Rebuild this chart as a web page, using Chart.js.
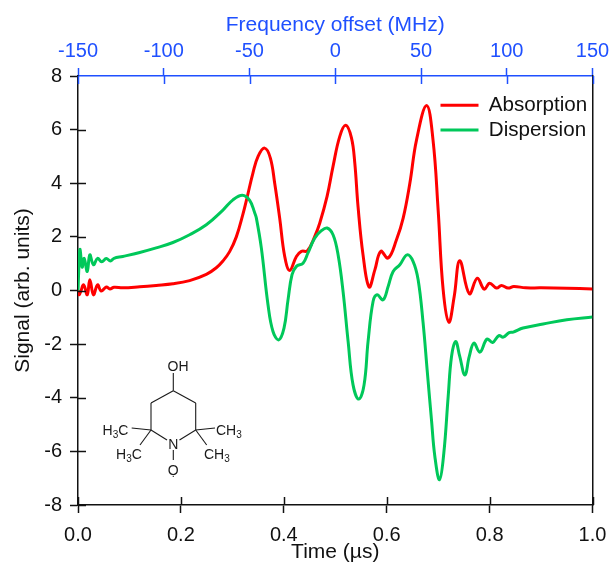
<!DOCTYPE html>
<html>
<head>
<meta charset="utf-8">
<title>Absorption and dispersion</title>
<script src="https://cdn.jsdelivr.net/npm/chart.js@4"></script>
<style>
    html, body { margin: 0; padding: 0; background: #fff; }
    #wrap { position: relative; width: 609px; height: 563px; overflow: hidden; }
    #molecule { position: absolute; left: 0; top: 0; pointer-events: none; }
    #molecule text { font-family: "Liberation Sans", Arial, sans-serif; font-size: 14px; fill: #1a1a1a; }
    #molecule line { stroke: #1a1a1a; stroke-width: 1.1; }
</style>
</head>
<body>
<div id="wrap">
    <canvas id="chart" width="609" height="563"></canvas>
    <!-- TEMPO-OH structure inset -->
    <svg id="molecule" width="609" height="563">
        <line x1="173.3" y1="373" x2="173.3" y2="390.7"/>
        <line x1="173.3" y1="390.7" x2="151" y2="403"/>
        <line x1="151" y1="403" x2="151" y2="430"/>
        <line x1="151" y1="430" x2="167" y2="440"/>
        <line x1="173.3" y1="390.7" x2="195.7" y2="403"/>
        <line x1="195.7" y1="403" x2="195.7" y2="430"/>
        <line x1="195.7" y1="430" x2="179.5" y2="440"/>
        <line x1="173.3" y1="450" x2="173.3" y2="460"/>
        <line x1="151" y1="430" x2="131.7" y2="428"/>
        <line x1="151" y1="430" x2="140" y2="445"/>
        <line x1="195.7" y1="430" x2="215" y2="428"/>
        <line x1="195.7" y1="430" x2="206.7" y2="445"/>
        <text x="178" y="371" text-anchor="middle">OH</text>
        <text x="173.3" y="449" text-anchor="middle">N</text>
        <text x="173.3" y="475" text-anchor="middle">O</text>
        <text x="173.3" y="477" text-anchor="middle" style="font-size:11px">.</text>
        <text x="102.5" y="435">H<tspan font-size="10" dy="3">3</tspan><tspan dy="-3">C</tspan></text>
        <text x="116" y="459">H<tspan font-size="10" dy="3">3</tspan><tspan dy="-3">C</tspan></text>
        <text x="216" y="435">CH<tspan font-size="10" dy="3">3</tspan></text>
        <text x="204" y="459">CH<tspan font-size="10" dy="3">3</tspan></text>
    </svg>
</div>
<script>
// values, time in microseconds
const absorptionTime = [0, 0.002, 0.005, 0.011, 0.018, 0.023, 0.03, 0.038, 0.045, 0.055, 0.062, 0.07, 0.087, 0.12, 0.152, 0.1845, 0.217, 0.2494, 0.2688, 0.2817, 0.2947, 0.3077, 0.3206, 0.3284, 0.34, 0.35, 0.3628, 0.3739, 0.3823, 0.392, 0.4018, 0.4115, 0.4245, 0.4342, 0.4459, 0.46, 0.4698, 0.4841, 0.4957, 0.5088, 0.5204, 0.5315, 0.538, 0.5443, 0.554, 0.5658, 0.577, 0.5885, 0.6028, 0.619, 0.632, 0.645, 0.658, 0.6775, 0.69, 0.70, 0.7097, 0.7208, 0.7312, 0.742, 0.7605, 0.776, 0.7895, 0.80, 0.8135, 0.823, 0.836, 0.847, 0.87, 0.9, 0.95, 1.0];
const absorption = [0, -0.16, -0.05, 0.21, -0.16, 0.4, -0.16, 0.21, -0.02, 0.13, 0.06, 0.12, 0.1, 0.14, 0.19, 0.25, 0.37, 0.6, 0.85, 1.1, 1.45, 2.0, 2.85, 3.45, 4.38, 5.0, 5.31, 4.94, 4.0, 2.7, 1.27, 0.75, 1.27, 1.46, 1.48, 2.01, 2.51, 3.51, 4.63, 5.75, 6.16, 5.69, 4.75, 3.13, 1.33, 0.13, 0.77, 1.46, 1.21, 1.89, 2.7, 4.0, 5.62, 6.9, 5.62, 3.0, 0.03, -1.18, -0.22, 1.11, -0.12, 0.46, 0.05, 0.27, 0.09, 0.19, 0.09, 0.15, 0.1, 0.1, 0.08, 0.06];

const dispersionTime = [0, 0.002, 0.004, 0.008, 0.012, 0.018, 0.023, 0.03, 0.038, 0.046, 0.055, 0.063, 0.07, 0.087, 0.12, 0.152, 0.1845, 0.217, 0.2494, 0.2817, 0.3012, 0.3195, 0.3337, 0.3434, 0.3467, 0.3564, 0.3693, 0.379, 0.39, 0.4004, 0.4082, 0.416, 0.4245, 0.4374, 0.447, 0.46, 0.473, 0.4841, 0.4957, 0.5055, 0.5152, 0.525, 0.5346, 0.5457, 0.556, 0.5638, 0.5735, 0.5813, 0.593, 0.6028, 0.6125, 0.6255, 0.6397, 0.6514, 0.6611, 0.6708, 0.6786, 0.687, 0.6936, 0.7027, 0.711, 0.7195, 0.726, 0.734, 0.742, 0.752, 0.7605, 0.7695, 0.781, 0.795, 0.8058, 0.818, 0.8265, 0.838, 0.846, 0.865, 0.904, 0.95, 1.0];
const dispersion = [0, 1.0, 1.54, 0.87, 1.2, 0.71, 1.33, 0.96, 1.2, 1.07, 1.19, 1.1, 1.2, 1.27, 1.42, 1.59, 1.79, 2.08, 2.45, 3.0, 3.38, 3.55, 3.36, 2.9, 2.7, 1.58, -0.53, -1.53, -1.84, -1.4, -0.35, 0.59, 0.9, 1.02, 1.4, 1.95, 2.23, 2.33, 2.08, 1.33, -0.04, -1.9, -3.52, -4.05, -3.52, -1.9, -0.41, -0.16, -0.35, 0.15, 0.71, 0.96, 1.33, 1.08, 0.4, -1.22, -2.96, -4.82, -6.19, -7.06, -6.07, -3.95, -2.46, -1.9, -2.46, -3.15, -2.46, -1.96, -2.3, -1.81, -1.94, -1.68, -1.74, -1.57, -1.55, -1.4, -1.25, -1.09, -0.99];

const seriesNames = ['Absorption', 'Dispersion'];
const RED = '#ff0000';
const GREEN = '#00c85a';
const BLUE = '#1f50ff';
const INK = '#111111';
const FONT = '"Liberation Sans", Arial, sans-serif';

function toPoints(xs, ys) {
    return xs.map((x, i) => ({ x: x, y: ys[i] }));
}

// Chart.js ticks only go outward, this adds the part inside the frame
const innerTicks = {
    id: 'innerTicks',
    afterLayout(chart) {
        // legend sits top right inside the frame
        chart.legend.left = 436.5;
        chart.legend.top = 91;
    },
    afterDatasetsDraw(chart) {
        const ctx = chart.ctx;
        const area = chart.chartArea;
        ctx.save();
        ['x', 'x2', 'y'].forEach(id => {
            const scale = chart.scales[id];
            ctx.strokeStyle = scale.options.grid.tickColor;
            ctx.lineWidth = 1.5;
            scale.ticks.forEach(tick => {
                const p = Math.round(scale.getPixelForValue(tick.value)) + 0.5;
                ctx.beginPath();
                if (id === 'y') {
                    // top one would sit on the blue axis line
                    if (tick.value === scale.max) return;
                    ctx.moveTo(area.left, p);
                    ctx.lineTo(area.left + 8, p);
                } else if (id === 'x') {
                    ctx.moveTo(p, area.bottom);
                    ctx.lineTo(p, area.bottom - 8);
                } else {
                    ctx.moveTo(p, area.top);
                    ctx.lineTo(p, area.top + 8);
                }
                ctx.stroke();
            });
        });
        ctx.restore();
    }
};

function fixedSize(size) {
    return function(scale) {
        if (scale.isHorizontal()) {
            scale.height = size;
            scale.paddingRight = 16.5;
            scale.paddingLeft = 0;
        } else {
            scale.width = size;
            scale.paddingTop = 0;
            scale.paddingBottom = 0;
        }
    };
}

new Chart(document.getElementById('chart').getContext('2d'), {
    type: 'line',
    plugins: [innerTicks],
    data: {
        datasets: [{
            label: seriesNames[0],
            data: toPoints(absorptionTime, absorption),
            borderColor: RED,
            backgroundColor: RED,
            borderWidth: 3,
            pointRadius: 0,
            tension: 0.4,
            xAxisID: 'x',
            yAxisID: 'y',
            order: 1
        }, {
            label: seriesNames[1],
            data: toPoints(dispersionTime, dispersion),
            borderColor: GREEN,
            backgroundColor: GREEN,
            borderWidth: 3,
            pointRadius: 0,
            tension: 0.4,
            xAxisID: 'x',
            yAxisID: 'y',
            order: 0
        }]
    },
    options: {
        responsive: false,
        animation: false,
        layout: { padding: 0 },
        font: { family: FONT },
        plugins: {
            tooltip: { enabled: false },
            legend: {
                position: 'chartArea',
                align: 'start',
                labels: {
                    boxWidth: 38,
                    boxHeight: 3,
                    padding: 4,
                    color: INK,
                    font: { family: FONT, size: 20.6 },
                    generateLabels: chart => Chart.defaults.plugins.legend.labels.generateLabels(chart)
                        .map(item => ({ ...item, lineWidth: 0 })),
                    sort: (a, b) => a.datasetIndex - b.datasetIndex
                }
            }
        },
        scales: {
            x: {
                type: 'linear',
                position: 'bottom',
                min: 0,
                max: 1,
                afterFit: fixedSize(58),
                grid: { drawOnChartArea: false, tickLength: 8, tickColor: INK, tickWidth: 1.5 },
                border: { color: INK, width: 1.5 },
                ticks: {
                    stepSize: 0.2,
                    maxRotation: 0,
                    padding: 10,
                    color: INK,
                    font: { family: FONT, size: 20 },
                    callback: v => v.toFixed(1)
                },
                title: { display: true, text: 'Time (µs)', color: INK, font: { family: FONT, size: 21 }, padding: { top: 0, bottom: -2 } }
            },
            x2: {
                type: 'linear',
                position: 'top',
                min: -150,
                max: 150,
                afterFit: fixedSize(76),
                grid: { drawOnChartArea: false, tickLength: 8, tickColor: BLUE, tickWidth: 1.5 },
                border: { color: BLUE, width: 1.5 },
                ticks: {
                    stepSize: 50,
                    maxRotation: 0,
                    padding: 5,
                    color: BLUE,
                    font: { family: FONT, size: 20 },
                    callback: v => String(v)
                },
                title: { display: true, text: 'Frequency offset (MHz)', color: BLUE, font: { family: FONT, size: 21 }, padding: { top: 13, bottom: 0 } }
            },
            y: {
                type: 'linear',
                position: 'left',
                min: -8,
                max: 8,
                afterFit: fixedSize(78),
                grid: { drawOnChartArea: false, tickLength: 8, tickColor: INK, tickWidth: 1.5 },
                border: { color: INK, width: 1.5 },
                ticks: {
                    stepSize: 2,
                    padding: 8,
                    color: INK,
                    font: { family: FONT, size: 20 },
                    callback: v => String(v)
                },
                title: { display: true, text: 'Signal (arb. units)', color: INK, font: { family: FONT, size: 21 }, padding: { top: 11, bottom: 0 } }
            },
            // right edge of the frame
            y2: {
                type: 'linear',
                position: 'right',
                min: -8,
                max: 8,
                afterFit: fixedSize(0),
                grid: { drawOnChartArea: false, drawTicks: false },
                border: { color: INK, width: 1.5 },
                ticks: { display: false }
            }
        }
    }
});
</script>
</body>
</html>
